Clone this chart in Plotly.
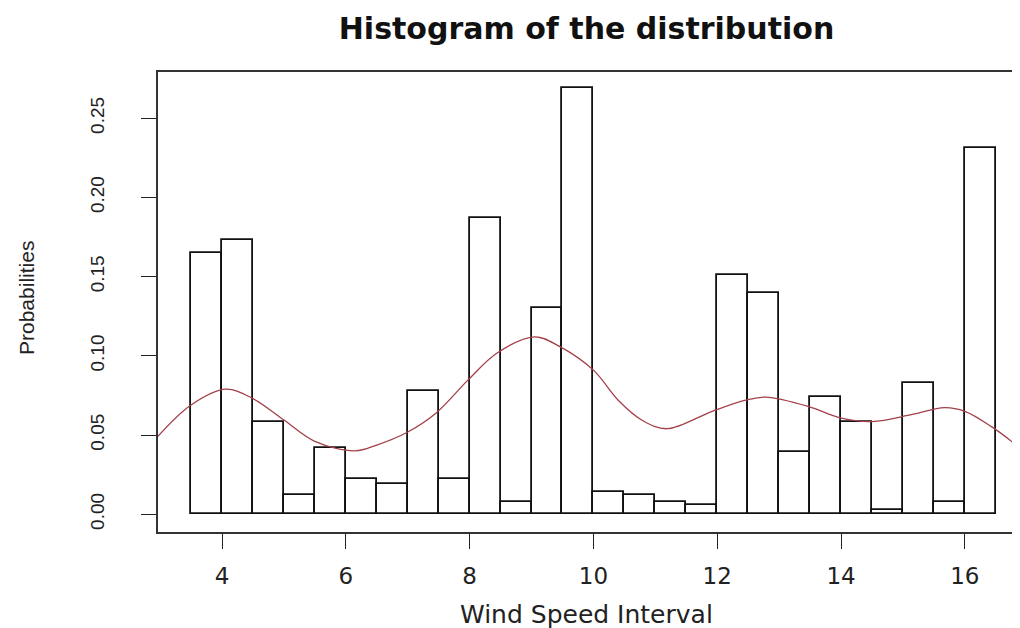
import plotly.graph_objects as go

# ---- data ----
bin_left = [3.5, 4.0, 4.5, 5.0, 5.5, 6.0, 6.5, 7.0, 7.5, 8.0, 8.5, 9.0, 9.5,
            10.0, 10.5, 11.0, 11.5, 12.0, 12.5, 13.0, 13.5, 14.0, 14.5, 15.0, 15.5, 16.0]
probabilities = [0.165, 0.173, 0.058, 0.012, 0.042, 0.022, 0.019, 0.078, 0.022, 0.187,
                 0.008, 0.130, 0.269, 0.014, 0.012, 0.008, 0.006, 0.151, 0.140, 0.039,
                 0.074, 0.058, 0.003, 0.083, 0.008, 0.231]
bin_width = 0.5

density_x = [2.96, 3.5, 4.06, 4.5, 5.0, 5.5, 6.15, 6.5, 6.97, 7.46, 7.98, 8.45, 9.05,
             9.45, 10.0, 10.4, 10.8, 11.19, 11.92, 12.46, 12.78, 13.48, 13.97, 14.5, 15.15,
             15.67, 16.0, 16.43, 16.82]
density_y = [0.049, 0.069, 0.079, 0.073, 0.0595, 0.046, 0.040, 0.0437, 0.0513, 0.064,
             0.085, 0.102, 0.112, 0.106, 0.091, 0.072, 0.059, 0.054, 0.065, 0.072, 0.074,
             0.068, 0.061, 0.0585, 0.063, 0.0673, 0.065, 0.0553, 0.044]

x_ticks = [4, 6, 8, 10, 12, 14, 16]
y_ticks = [0.00, 0.05, 0.10, 0.15, 0.20, 0.25]
y_tick_text = ["0.00", "0.05", "0.10", "0.15", "0.20", "0.25"]

title_text = "Histogram of the distribution"
x_title = "Wind Speed Interval"
y_title = "Probabilities"

centers = [b + bin_width / 2 for b in bin_left]

fig = go.Figure()
fig.add_trace(go.Bar(
    x=centers, y=probabilities, width=bin_width,
    marker=dict(color="white", line=dict(color="#111111", width=1.8)),
    hoverinfo="x+y", showlegend=False,
))
fig.add_trace(go.Scatter(
    x=density_x, y=density_y, mode="lines",
    line=dict(color="#A3404A", width=1.3, shape="spline", smoothing=1.0),
    showlegend=False,
))

narrow = "Liberation Sans Narrow, Arial Narrow, Liberation Sans, Arial, sans-serif"
wide = "DejaVu Sans, Verdana, sans-serif"

# the page body has an 8px margin, so the figure is 1012x620
fig.update_layout(
    width=1012, height=620,
    margin=dict(l=150, r=5, t=64, b=96, autoexpand=False),
    paper_bgcolor="white", plot_bgcolor="white",
    bargap=0,
    title=dict(text=title_text, x=0.5, xref="paper", y=1 - 20 / 620, yref="container",
               xanchor="center", yanchor="middle",
               font=dict(family=wide, size=30, color="#111111", weight="bold")),
    xaxis=dict(range=[2.966, 16.81], tickvals=x_ticks, ticks="outside", ticklen=15,
               tickwidth=1.4, tickcolor="#222222", showgrid=False, zeroline=False,
               showline=True, mirror=True, linecolor="#333333", linewidth=1.5,
               automargin=False,
               tickfont=dict(family=wide, size=23, color="#222222"),
               ticklabelstandoff=8),
    yaxis=dict(range=[-0.0112, 0.2792], tickvals=y_ticks, ticktext=y_tick_text,
               tickangle=-90, ticks="outside", ticklen=15, tickwidth=1.4,
               tickcolor="#222222", showgrid=False, zeroline=False,
               showline=True, mirror=True, linecolor="#333333", linewidth=1.5,
               automargin=False,
               tickfont=dict(family=narrow, size=19, color="#222222"),
               ticklabelstandoff=30),
    annotations=[
        dict(text=x_title, xref="paper", yref="paper", x=0.5, y=-(614 - 532) / 460,
             xanchor="center", yanchor="middle", showarrow=False,
             font=dict(family=wide, size=25, color="#222222")),
        dict(text=y_title, xref="paper", yref="paper", x=-(158 - 26) / 857, y=0.5 + (302 - 298) / 460,
             xanchor="center", yanchor="middle", showarrow=False, textangle=-90,
             font=dict(family=narrow, size=21, color="#222222")),
    ],
)

fig.write_html("out.html")
